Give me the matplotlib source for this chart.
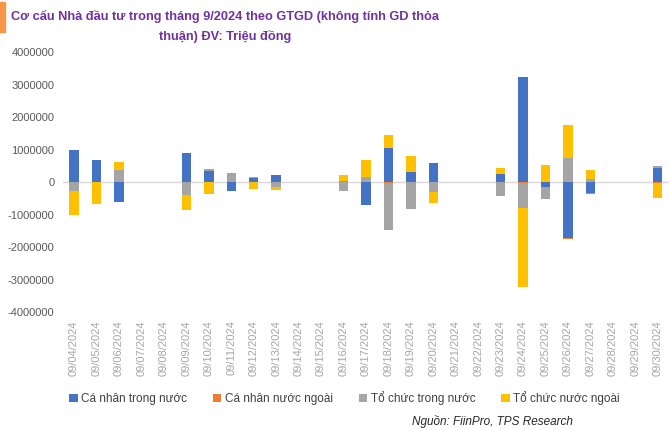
import numpy as np
import matplotlib.pyplot as plt
from matplotlib.patches import Rectangle

# dates (trading days + weekends, month 9/2024)
dates = ["09/%02d/2024" % d for d in range(4, 31)]

# values in million VND (in millions)
ca_nhan_trong_nuoc = [1.00, 0.68, -0.60, 0, 0, 0.88, 0.35, -0.27, 0.12, 0.22, 0, 0, 0, -0.70,
                      1.06, 0.31, 0.60, 0, 0, 0.24, 3.22, -0.15, -1.72, -0.35, 0, 0, 0.42]
ca_nhan_nuoc_ngoai = [0, 0, -0.02, 0, 0, 0, 0, 0, 0, 0, 0, 0, 0.03, 0,
                      -0.04, 0, 0, 0, 0, 0, -0.02, 0, -0.03, -0.02, 0, 0, -0.04]
to_chuc_trong_nuoc = [-0.26, 0, 0.37, 0, 0, -0.40, 0.05, 0.27, 0.05, -0.15, 0, 0, -0.26, 0.15,
                      -1.42, -0.82, -0.31, 0, 0, -0.44, -0.78, -0.37, 0.75, 0.11, 0, 0, 0.07]
to_chuc_nuoc_ngoai = [-0.74, -0.68, 0.25, 0, 0, -0.47, -0.38, 0, -0.20, -0.10, 0, 0, 0.20, 0.52,
                      0.39, 0.48, -0.32, 0, 0, 0.20, -2.44, 0.52, 1.00, 0.27, 0, 0, -0.45]

series = [
    ("Cá nhân trong nước", ca_nhan_trong_nuoc, "#4472C4"),
    ("Cá nhân nước ngoài", ca_nhan_nuoc_ngoai, "#ED7D31"),
    ("Tổ chức trong nước", to_chuc_trong_nuoc, "#A5A5A5"),
    ("Tổ chức nước ngoài", to_chuc_nuoc_ngoai, "#FFC000"),
]

plt.rcParams['font.family'] = ['Liberation Sans', 'DejaVu Sans']

fig = plt.figure(figsize=(6.69, 4.30), dpi=100)
ax = fig.add_axes([0.094, 0.274, 0.906, 0.605])

x = np.arange(len(dates))
pos_bottom = np.zeros(len(dates))
neg_bottom = np.zeros(len(dates))
for name, vals, col in series:
    v = np.array(vals) * 1e6
    bottom = np.where(v >= 0, pos_bottom, neg_bottom)
    ax.bar(x, v, 0.42, bottom=bottom, color=col, label=name, zorder=3)
    pos_bottom += np.where(v > 0, v, 0)
    neg_bottom += np.where(v < 0, v, 0)

ax.set_xlim(-0.5, len(dates) - 0.5)
ax.set_ylim(-4e6, 4e6)
ax.set_yticks(np.arange(-4e6, 4.1e6, 1e6))
ax.set_yticklabels([str(int(t)) for t in np.arange(-4e6, 4.1e6, 1e6)], fontsize=8, color="#595959")
ax.set_xticks(x)
ax.set_xticklabels(dates, rotation=90, fontsize=8, color="#A6A6A6")
ax.tick_params(length=0, pad=6)
ax.tick_params(axis='x', pad=6)
for s in ax.spines.values():
    s.set_visible(False)
ax.axhline(0, color="#D9D9D9", lw=1, zorder=2)

# title
fig.patches.append(Rectangle((0, 0.925), 0.008, 0.07, transform=fig.transFigure,
                             color="#F79646", zorder=5))
fig.text(0.336, 0.961, "Cơ cấu Nhà đầu tư trong tháng 9/2024 theo GTGD (không tính GD thỏa",
         ha="center", va="center", fontsize=9.2, fontweight="bold", color="#7030A0")
fig.text(0.336, 0.914, "thuận) ĐV: Triệu đồng",
         ha="center", va="center", fontsize=9.2, fontweight="bold", color="#7030A0")

fig.legend(loc="center", bbox_to_anchor=(0.515, 0.074), ncol=4, frameon=False,
           fontsize=8.5, handlelength=0.7, handleheight=0.7, handletextpad=0.3,
           columnspacing=2.2, labelcolor="#404040")

fig.text(0.857, 0.02, "Nguồn: FiinPro, TPS Research", ha="right", va="center",
         fontsize=8.5, style="italic", color="#262626")

fig.savefig("out.png", dpi=100)
